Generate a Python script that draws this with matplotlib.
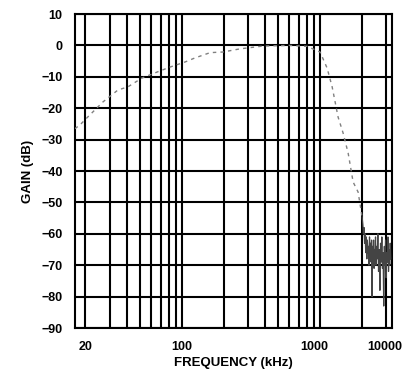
import matplotlib
matplotlib.use("Agg")
import matplotlib.pyplot as plt

# response curve (Hz, dB)
freq = [16.8, 18.2, 20.8, 26.8, 34.4, 40.6, 51.3, 65.9, 81.9, 105, 124, 160, 198,
        263, 386, 600, 805, 1000, 1124, 1223, 1350, 1468, 1597, 1735, 1885, 2015]
gain = [-26.5, -25.4, -22.8, -18.0, -14.2, -13.2, -10.4, -8.5, -6.9, -5.3, -4.0, -2.3, -2.1,
        -1.1, -0.2, 0.0, -0.3, -2.1, -7.2, -13.2, -22.8, -27.9, -34.3, -43.5, -46.7, -54.6]

# noisy floor at the top end
noise_freq = [2015, 2040, 2060, 2080, 2100, 2120, 2140, 2160, 2180, 2200, 2220, 2240, 2260,
              2280, 2300, 2320, 2340, 2360, 2380, 2400, 2420, 2440, 2460, 2480, 2500, 2520,
              2540, 2560, 2590, 2620, 2650, 2680, 2710, 2740, 2770, 2800, 2830, 2860, 2890,
              2920, 2950, 2980, 3010, 3040, 3070, 3100, 3130, 3160, 3190, 3220, 3250]
noise_gain = [-54.6, -57, -60, -58, -63, -60, -66, -61, -68, -62, -66, -64, -70,
              -61, -67, -63, -69, -62, -80, -64, -68, -62, -71, -65, -67, -61,
              -70, -64, -68, -60, -72, -65, -78, -63, -69, -61, -71, -66, -83,
              -64, -70, -62, -74, -66, -69, -61, -72, -65, -70, -63, -68]

grid_x = [20, 30, 40, 50, 60, 70, 80, 90, 100, 200, 300, 400, 500, 600, 700, 800, 900,
          1000, 2000, 3000]
grid_y = list(range(-90, 11, 10))
xtick_pos = [20, 100, 900, 2950]
xtick_lab = ["20", "100", "1000", "10000"]

plt.rcParams['font.family'] = ['Liberation Sans', 'DejaVu Sans']

fig = plt.figure(figsize=(4.14, 3.83), dpi=100)
ax = fig.add_axes([0.181, 0.1436, 0.766, 0.8198])
ax.set_xscale("log")
ax.set_xlim(16.8, 3320)
ax.set_ylim(-90, 10)

for gx in grid_x:
    ax.axvline(gx, color="black", lw=1.5, zorder=1)
for gy in grid_y:
    ax.axhline(gy, color="black", lw=1.5, zorder=1)

ax.plot(freq, gain, color="#808080", lw=1.0, ls=(0, (2.5, 3)), zorder=3)
ax.plot(noise_freq, noise_gain, color="#444444", lw=0.9, zorder=3)

for s in ax.spines.values():
    s.set_linewidth(1.5)
    s.set_color("black")

ax.set_yticks(grid_y)
ax.set_yticklabels([str(v).replace("-", "\u2212") for v in grid_y])
ax.set_xticks(xtick_pos)
ax.set_xticklabels(xtick_lab)
ax.xaxis.set_minor_locator(matplotlib.ticker.NullLocator())
ax.tick_params(axis="both", length=0, labelsize=9, pad=9)
for lab in ax.get_xticklabels() + ax.get_yticklabels():
    lab.set_fontweight("bold")

ax.set_xlabel("FREQUENCY (kHz)", fontsize=9.5, fontweight="bold", labelpad=3)
ax.set_ylabel("GAIN (dB)", fontsize=9.5, fontweight="bold", labelpad=5)

fig.savefig("out.png", dpi=100)
